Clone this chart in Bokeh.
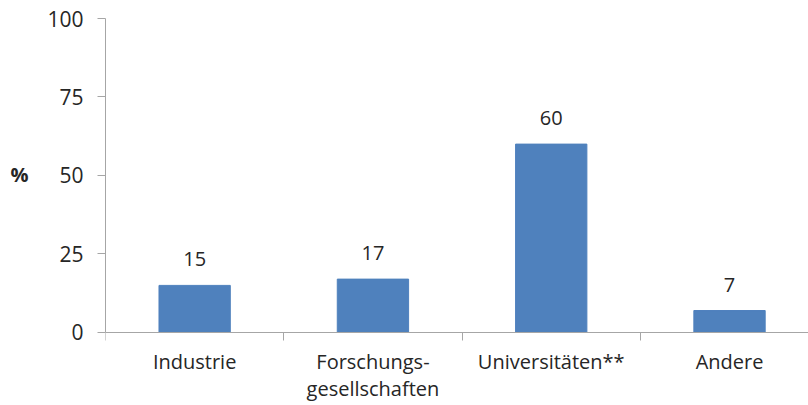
from bokeh.plotting import figure
from bokeh.models import Range1d, FixedTicker, ColumnDataSource, LinearAxis
from bokeh.core.properties import value
from bokeh.embed import file_html
from bokeh.resources import INLINE

# Share of funding by institution type (percent)
categories = ["Industrie", "Forschungs-\ngesellschaften", "Universitäten**", "Andere"]
shares = [15, 17, 60, 7]
y_ticks = [0, 25, 50, 75, 100]

FONT = "Open Sans"
TEXT_COLOR = "#262626"
AXIS_COLOR = "#a6a6a6"
BAR_COLOR = "#4f81bd"

# Categories sit at the centres of unit-wide slots; slot borders carry the ticks
centers = [i + 0.5 for i in range(len(categories))]
borders = [float(i) for i in range(len(categories) + 1)]

source = ColumnDataSource(data=dict(
    x=centers,
    share=shares,
    base=[0] * len(categories),
    label=[str(v) for v in shares],
    category=categories,
))

# The frame runs down to the bottom edge so the category names (drawn as text
# below the zero line) stay inside it; the value axis itself covers 0..100.
p = figure(
    width=808, height=405,
    x_range=Range1d(0, 3.943), y_range=Range1d(-23.25, 100),
    output_backend="svg", toolbar_location=None,
    x_axis_type=None, y_axis_type=None,
    min_border_left=105, min_border_right=0,
    min_border_top=18, min_border_bottom=0,
)
p.outline_line_color = None
p.background_fill_color = "white"
p.border_fill_color = "white"

p.vbar(x="x", top="share", width=0.4, source=source,
       fill_color=BAR_COLOR, line_color=BAR_COLOR, line_width=1)

p.text(x="x", y="share", text="label", source=source,
       text_align="center", text_baseline="bottom", y_offset=-19,
       text_font=value(FONT), text_font_size="20px", text_color=TEXT_COLOR)

# Category axis on the zero line: tick marks at the slot borders
xaxis = LinearAxis(fixed_location=0,
                   ticker=FixedTicker(ticks=[], minor_ticks=borders))
xaxis.major_tick_out = 0
xaxis.major_tick_in = 0
xaxis.minor_tick_out = 8
xaxis.minor_tick_in = 0
xaxis.minor_tick_line_color = AXIS_COLOR
xaxis.axis_line_color = AXIS_COLOR
xaxis.major_label_text_font_size = "0px"
p.add_layout(xaxis, "below")

# Category names centred under each slot
p.text(x="x", y="base", text="category", source=source,
       text_align="center", text_baseline="top", y_offset=16,
       text_font=value(FONT), text_font_size="20px",
       text_color=TEXT_COLOR, text_line_height=1.0)

yaxis = LinearAxis(ticker=FixedTicker(ticks=y_ticks, minor_ticks=[]),
                   bounds=(0, 100))
# blank lines under "%" lift it to the middle of the 0..100 span
yaxis.axis_label = "%\n \n "
yaxis.axis_label_orientation = "horizontal"
yaxis.axis_label_text_font = FONT
yaxis.axis_label_text_font_size = "20px"
yaxis.axis_label_text_font_style = "bold"
yaxis.axis_label_text_color = TEXT_COLOR
yaxis.axis_label_text_line_height = 1.4
yaxis.axis_label_standoff = 16
yaxis.major_tick_out = 8
yaxis.major_tick_in = 0
yaxis.major_tick_line_color = AXIS_COLOR
yaxis.axis_line_color = AXIS_COLOR
yaxis.major_label_standoff = 14
yaxis.major_label_text_font = FONT
yaxis.major_label_text_font_size = "21px"
yaxis.major_label_text_color = TEXT_COLOR
p.add_layout(yaxis, "left")

p.xgrid.visible = False
p.ygrid.visible = False

open("out.html", "w").write(file_html(p, INLINE))
